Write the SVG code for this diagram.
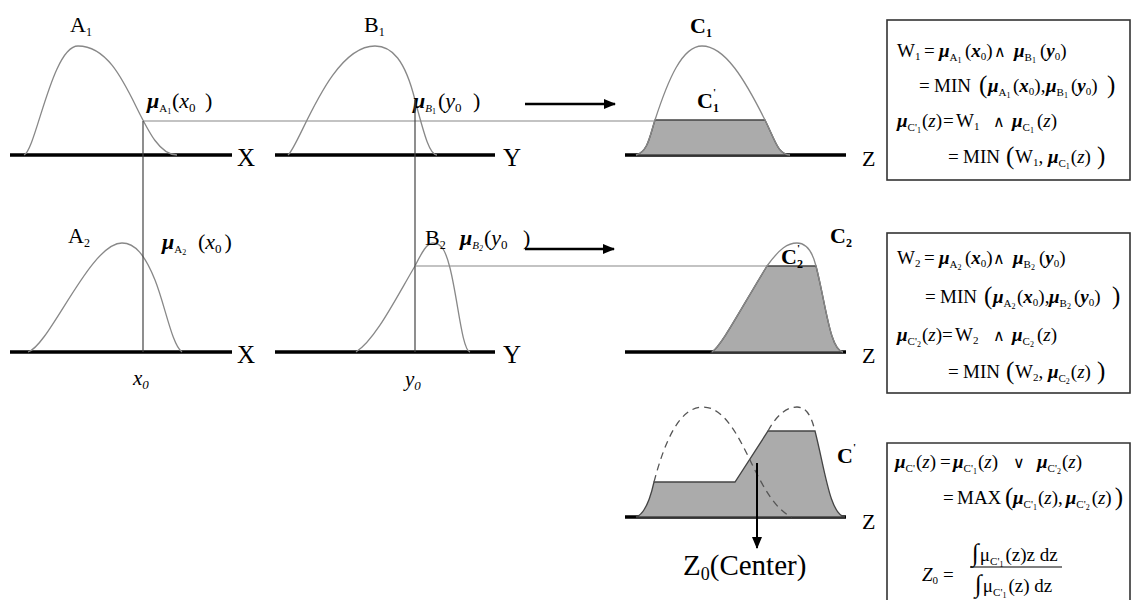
<svg xmlns="http://www.w3.org/2000/svg" width="1135" height="600" viewBox="0 0 1135 600">
<defs>
<marker id="ah" markerUnits="userSpaceOnUse" markerWidth="12" markerHeight="10" refX="11" refY="5" orient="auto">
<path d="M0,0 L12,5 L0,10 Z" fill="#000"/>
</marker>
<style>
.t{font-family:"Liberation Serif","Times New Roman",serif;fill:#000}
.lb{font-size:22px}
.ax{font-size:25px}
.fm{font-size:19px}
.big{font-size:25px}
.op{font-family:"DejaVu Serif",serif;font-size:16px}
.mu{font-style:italic;font-weight:bold}
.i{font-style:italic}
.b{font-weight:bold}
.s1{font-size:11px}
.s2{font-size:8px}
.ls{font-size:12px}
.lab{font-size:22px}
.axis{stroke:#000;stroke-width:3.5;fill:none}
.curve{stroke:#888;stroke-width:1.3;fill:none}
.dash{stroke:#555;stroke-width:1.3;fill:none;stroke-dasharray:7 5}
.shade{fill:#ababab;stroke:#444;stroke-width:1.3}
.guide{stroke:#888;stroke-width:1.2;fill:none}
.vguide{stroke:#444;stroke-width:1.2;fill:none}
.arrow{stroke:#000;stroke-width:2.5;fill:none;marker-end:url(#ah)}
.box{fill:none;stroke:#333;stroke-width:1.6}
</style>
</defs>
<rect width="1135" height="600" fill="#fff"/>

<g id="plotA1">
<line class="axis" x1="10" y1="155" x2="232" y2="155"/>
<path class="curve" d="M24,155 C36,150 52,46 78,46 C130,46 140,155 177,155"/>
<text class="t lb" x="70" y="32">A<tspan class="ls" dy="4">1</tspan></text>
<text class="t ax" x="237" y="166">X</text>
<text class="t lab" y="108"><tspan x="147" class="mu">μ</tspan><tspan font-size="11" dy="4">A</tspan><tspan font-size="8" dy="2">1</tspan><tspan x="172" dy="-6">(</tspan><tspan class="i">x</tspan><tspan font-size="13" dy="4">0</tspan><tspan x="205" dy="-4">)</tspan></text>
</g>

<g id="plotB1">
<line class="axis" x1="275" y1="155" x2="495" y2="155"/>
<path class="curve" d="M288,155 C300,145 330,46 375,46 C392,46 405,60 415,100 C425,138 430,155 437,155"/>
<text class="t lb" x="364" y="32">B<tspan class="ls" dy="4">1</tspan></text>
<text class="t ax" x="503" y="166">Y</text>
<text class="t lab" y="108"><tspan x="413" class="mu">μ</tspan><tspan font-size="11" class="i" dy="4">B</tspan><tspan font-size="8" dy="2">1</tspan><tspan x="438" dy="-6">(</tspan><tspan class="i">y</tspan><tspan font-size="13" dy="4">0</tspan><tspan x="473" dy="-4">)</tspan></text>
</g>

<g id="plotC1">
<line class="axis" x1="625" y1="155" x2="846" y2="155"/>
<path class="shade" d="M636,155 C648,152 650,135 655,120 L765,120 C775,140 778,155 790,155 Z"/>
<path class="curve" d="M636,155 C648,152 650,135 655,120 C668,80 682,46 702,46 C725,46 745,80 765,120 C775,140 778,155 790,155"/>
<text class="t lb b" x="690" y="33">C<tspan class="ls" dy="4">1</tspan></text>
<text class="t lb b" x="697" y="108">C<tspan font-size="11" dy="-12">'</tspan><tspan class="ls" dx="-3" dy="16">1</tspan></text>
<text class="t lb" x="862" y="166">Z</text>
</g>

<g id="plotA2">
<line class="axis" x1="10" y1="352" x2="232" y2="352"/>
<path class="curve" d="M28,352 C50,345 90,243 122,243 C135,243 145,255 155,280 C165,305 172,345 182,352"/>
<text class="t lb" x="68" y="243">A<tspan class="ls" dy="4">2</tspan></text>
<text class="t ax" x="237" y="363">X</text>
<text class="t lab" y="249"><tspan x="162" class="mu">μ</tspan><tspan font-size="11" dy="4">A</tspan><tspan font-size="8" dy="2">2</tspan><tspan x="198" dy="-6">(</tspan><tspan class="i">x</tspan><tspan font-size="13" dy="4">0</tspan><tspan dx="3" dy="-4">)</tspan></text>
<text class="t i" font-size="21" x="133" y="385">x<tspan font-size="13" dy="4">0</tspan></text>
</g>

<g id="plotB2">
<line class="axis" x1="275" y1="352" x2="495" y2="352"/>
<path class="curve" d="M356,352 C375,340 395,300 415,266 C422,252 427,243 433,243 C442,243 446,252 450,268 C458,300 462,350 470,352"/>
<text class="t lb" x="425" y="245">B<tspan class="ls" dy="4">2</tspan></text>
<text class="t ax" x="503" y="363">Y</text>
<text class="t lab" y="245"><tspan x="460" class="mu">μ</tspan><tspan font-size="11" class="i" dy="4">B</tspan><tspan font-size="8" class="i" dy="2">2</tspan><tspan x="484" dy="-6">(</tspan><tspan class="i">y</tspan><tspan font-size="13" dy="4">0</tspan><tspan x="523" dy="-4">)</tspan></text>
<text class="t i" font-size="21" x="405" y="386">y<tspan font-size="13" dy="4">0</tspan></text>
</g>

<g id="plotC2">
<line class="axis" x1="625" y1="352" x2="846" y2="352"/>
<path class="shade" d="M712,352 C722,345 740,310 767,266 L816,266 C826,305 830,350 843,352 Z"/>
<path class="curve" d="M712,352 C722,345 740,310 767,266 C780,248 788,243 797,243 C806,243 812,250 816,266 C826,305 830,350 843,352"/>
<text class="t lb b" x="830" y="243">C<tspan class="ls" dy="4">2</tspan></text>
<text class="t lb b" x="781" y="264">C<tspan font-size="11" dy="-12">'</tspan><tspan class="ls" dx="-3" dy="16">2</tspan></text>
<text class="t lb" x="862" y="363">Z</text>
</g>

<g id="plotC">
<line class="axis" x1="625" y1="517" x2="846" y2="517"/>
<path class="shade" d="M636,517 C645,514 650,500 654,482 L735,482 L768,431 L815,431 C825,470 830,515 845,517 Z"/>
<path class="dash" d="M654,482 C665,440 680,407 703,407 C725,407 740,440 750,460 C762,485 775,510 792,517"/>
<path class="dash" d="M768,431 C775,418 785,407 797,407 C806,407 811,415 815,431"/>
<text class="t lb b" x="837" y="463">C<tspan font-size="11" dy="-12">'</tspan></text>
<text class="t lb" x="862" y="529">Z</text>
<text class="t" font-size="29" x="683" y="575">Z<tspan font-size="18" dy="5">0</tspan><tspan dy="-5">(Center)</tspan></text>
</g>

<g id="connectors">
<line class="guide" x1="143" y1="121" x2="655" y2="121"/>
<line class="vguide" x1="143" y1="121" x2="143" y2="352"/>
<line class="vguide" x1="415" y1="100" x2="415" y2="352"/>
<line class="guide" x1="415" y1="266" x2="767" y2="266"/>
<line class="arrow" x1="525" y1="104" x2="615" y2="104"/>
<line class="arrow" x1="525" y1="249" x2="614" y2="249"/>
<line class="arrow" x1="757" y1="463" x2="757" y2="548" style="stroke-width:2"/>
</g>

<g id="box1">
<rect class="box" x="887" y="20" width="243" height="160"/>
<text class="t fm" y="57"><tspan x="897">W</tspan><tspan class="s1" dy="3">1</tspan><tspan x="924" dy="-3">=</tspan><tspan x="939" class="mu">μ</tspan><tspan class="s1" dy="4">A</tspan><tspan class="s2" dy="2">1</tspan><tspan x="965" dy="-6">(</tspan><tspan class="mu">x</tspan><tspan class="s1" dy="3">0</tspan><tspan dy="-3">)</tspan><tspan x="994" class="op">∧</tspan><tspan x="1014" class="mu">μ</tspan><tspan class="s1" dy="4">B</tspan><tspan class="s2" dy="2">1</tspan><tspan x="1040" dy="-6">(</tspan><tspan class="mu">y</tspan><tspan class="s1" dy="3">0</tspan><tspan dy="-3">)</tspan></text>
<text class="t fm" y="92"><tspan x="919">=</tspan><tspan x="934">MIN</tspan><tspan x="979" class="big" dy="1">(</tspan><tspan x="988" class="mu" dy="-1">μ</tspan><tspan class="s1" dy="4">A</tspan><tspan class="s2" dy="2">1</tspan><tspan x="1013" dy="-6">(</tspan><tspan class="mu">x</tspan><tspan class="s1" dy="3">0</tspan><tspan dy="-3">),</tspan><tspan x="1046" class="mu">μ</tspan><tspan class="s1" dy="4">B</tspan><tspan class="s2" dy="2">1</tspan><tspan x="1071" dy="-6">(</tspan><tspan class="mu">y</tspan><tspan class="s1" dy="3">0</tspan><tspan dy="-3">)</tspan><tspan x="1107" class="big" dy="1">)</tspan></text>
<text class="t fm" y="127"><tspan x="897" class="mu">μ</tspan><tspan class="s1" dy="4">C'</tspan><tspan class="s2" dy="2">1</tspan><tspan x="922" dy="-6">(</tspan><tspan class="i">z</tspan><tspan>)</tspan><tspan x="943">=</tspan><tspan x="956">W</tspan><tspan class="s1" dy="3">1</tspan><tspan x="993" class="op" dy="-3">∧</tspan><tspan x="1012" class="mu">μ</tspan><tspan class="s1" dy="4">C</tspan><tspan class="s2" dy="2">1</tspan><tspan x="1037" dy="-6">(</tspan><tspan class="i">z</tspan><tspan>)</tspan></text>
<text class="t fm" y="163"><tspan x="948">=</tspan><tspan x="963">MIN</tspan><tspan x="1006" class="big" dy="1">(</tspan><tspan x="1015" dy="-1">W</tspan><tspan class="s1" dy="3">1</tspan><tspan dy="-3">, </tspan><tspan class="mu">μ</tspan><tspan class="s1" dy="4">C</tspan><tspan class="s2" dy="2">1</tspan><tspan dx="1" dy="-6">(</tspan><tspan class="i">z</tspan><tspan>)</tspan><tspan dx="6" class="big" dy="1">)</tspan></text>
</g>

<g id="box2">
<rect class="box" x="887" y="233" width="243" height="160"/>
<text class="t fm" y="264"><tspan x="897">W</tspan><tspan class="s1" dy="3">2</tspan><tspan x="924" dy="-3">=</tspan><tspan x="939" class="mu">μ</tspan><tspan class="s1" dy="4">A</tspan><tspan class="s2" dy="2">2</tspan><tspan x="965" dy="-6">(</tspan><tspan class="mu">x</tspan><tspan class="s1" dy="3">0</tspan><tspan dy="-3">)</tspan><tspan x="993" class="op">∧</tspan><tspan x="1013" class="mu">μ</tspan><tspan class="s1" dy="4">B</tspan><tspan class="s2" dy="2">2</tspan><tspan x="1039" dy="-6">(</tspan><tspan class="mu">y</tspan><tspan class="s1" dy="3">0</tspan><tspan dy="-3">)</tspan></text>
<text class="t fm" y="303"><tspan x="925">=</tspan><tspan x="940">MIN</tspan><tspan x="984" class="big" dy="1">(</tspan><tspan x="993" class="mu" dy="-1">μ</tspan><tspan class="s1" dy="4">A</tspan><tspan class="s2" dy="2">2</tspan><tspan x="1017" dy="-6">(</tspan><tspan class="mu">x</tspan><tspan class="s1" dy="3">0</tspan><tspan dy="-3">),</tspan><tspan x="1049" class="mu">μ</tspan><tspan class="s1" dy="4">B</tspan><tspan class="s2" dy="2">2</tspan><tspan x="1074" dy="-6">(</tspan><tspan class="mu">y</tspan><tspan class="s1" dy="3">0</tspan><tspan dy="-3">)</tspan><tspan x="1112" class="big" dy="1">)</tspan></text>
<text class="t fm" y="341"><tspan x="897" class="mu">μ</tspan><tspan class="s1" dy="4">C'</tspan><tspan class="s2" dy="2">2</tspan><tspan x="922" dy="-6">(</tspan><tspan class="i">z</tspan><tspan>)</tspan><tspan x="942">=</tspan><tspan x="955">W</tspan><tspan class="s1" dy="3">2</tspan><tspan x="993" class="op" dy="-3">∧</tspan><tspan x="1012" class="mu">μ</tspan><tspan class="s1" dy="4">C</tspan><tspan class="s2" dy="2">2</tspan><tspan x="1037" dy="-6">(</tspan><tspan class="i">z</tspan><tspan>)</tspan></text>
<text class="t fm" y="378"><tspan x="948">=</tspan><tspan x="963">MIN</tspan><tspan x="1006" class="big" dy="1">(</tspan><tspan x="1015" dy="-1">W</tspan><tspan class="s1" dy="3">2</tspan><tspan dy="-3">, </tspan><tspan class="mu">μ</tspan><tspan class="s1" dy="4">C</tspan><tspan class="s2" dy="2">2</tspan><tspan dx="1" dy="-6">(</tspan><tspan class="i">z</tspan><tspan>)</tspan><tspan dx="6" class="big" dy="1">)</tspan></text>
</g>

<g id="box3">
<path class="box" d="M887,601 V443 H1130 V601"/>
<text class="t fm" y="468"><tspan x="895" class="mu">μ</tspan><tspan class="s1" dy="4">C'</tspan><tspan dx="1" dy="-4">(</tspan><tspan class="i">z</tspan><tspan>)</tspan><tspan x="940">=</tspan><tspan x="953" class="mu">μ</tspan><tspan class="s1" dy="4">C'</tspan><tspan class="s2" dy="2">1</tspan><tspan dx="1" dy="-6">(</tspan><tspan class="i">z</tspan><tspan>)</tspan><tspan x="1013" class="op">∨</tspan><tspan x="1037" class="mu">μ</tspan><tspan class="s1" dy="4">C'</tspan><tspan class="s2" dy="2">2</tspan><tspan dx="1" dy="-6">(</tspan><tspan class="i">z</tspan><tspan>)</tspan></text>
<text class="t fm" y="504"><tspan x="943">=</tspan><tspan x="957">MAX</tspan><tspan x="1005" class="big" dy="1">(</tspan><tspan x="1013" class="mu" dy="-1">μ</tspan><tspan class="s1" dy="4">C'</tspan><tspan class="s2" dy="2">1</tspan><tspan dx="1" dy="-6">(</tspan><tspan class="i">z</tspan><tspan>),</tspan><tspan dx="3" class="mu">μ</tspan><tspan class="s1" dy="4">C'</tspan><tspan class="s2" dy="2">2</tspan><tspan dx="2" dy="-6">(</tspan><tspan class="i">z</tspan><tspan>)</tspan><tspan dx="3" class="big" dy="1">)</tspan></text>
<text class="t fm" y="581"><tspan x="922" class="i">Z</tspan><tspan class="s1" dy="3">0</tspan><tspan x="943" dy="-3">=</tspan></text>
<text class="t fm" y="561"><tspan x="972" class="big">∫</tspan><tspan dx="1">μ</tspan><tspan class="s1" dy="4">C'</tspan><tspan class="s2" dy="2">1</tspan><tspan dx="2" dy="-6">(z)z dz</tspan></text>
<line x1="970" y1="567" x2="1062" y2="567" stroke="#000" stroke-width="1"/>
<text class="t fm" y="592"><tspan x="975" class="big">∫</tspan><tspan dx="1">μ</tspan><tspan class="s1" dy="4">C'</tspan><tspan class="s2" dy="2">1</tspan><tspan dx="2" dy="-6">(z) dz</tspan></text>
</g>
</svg>
